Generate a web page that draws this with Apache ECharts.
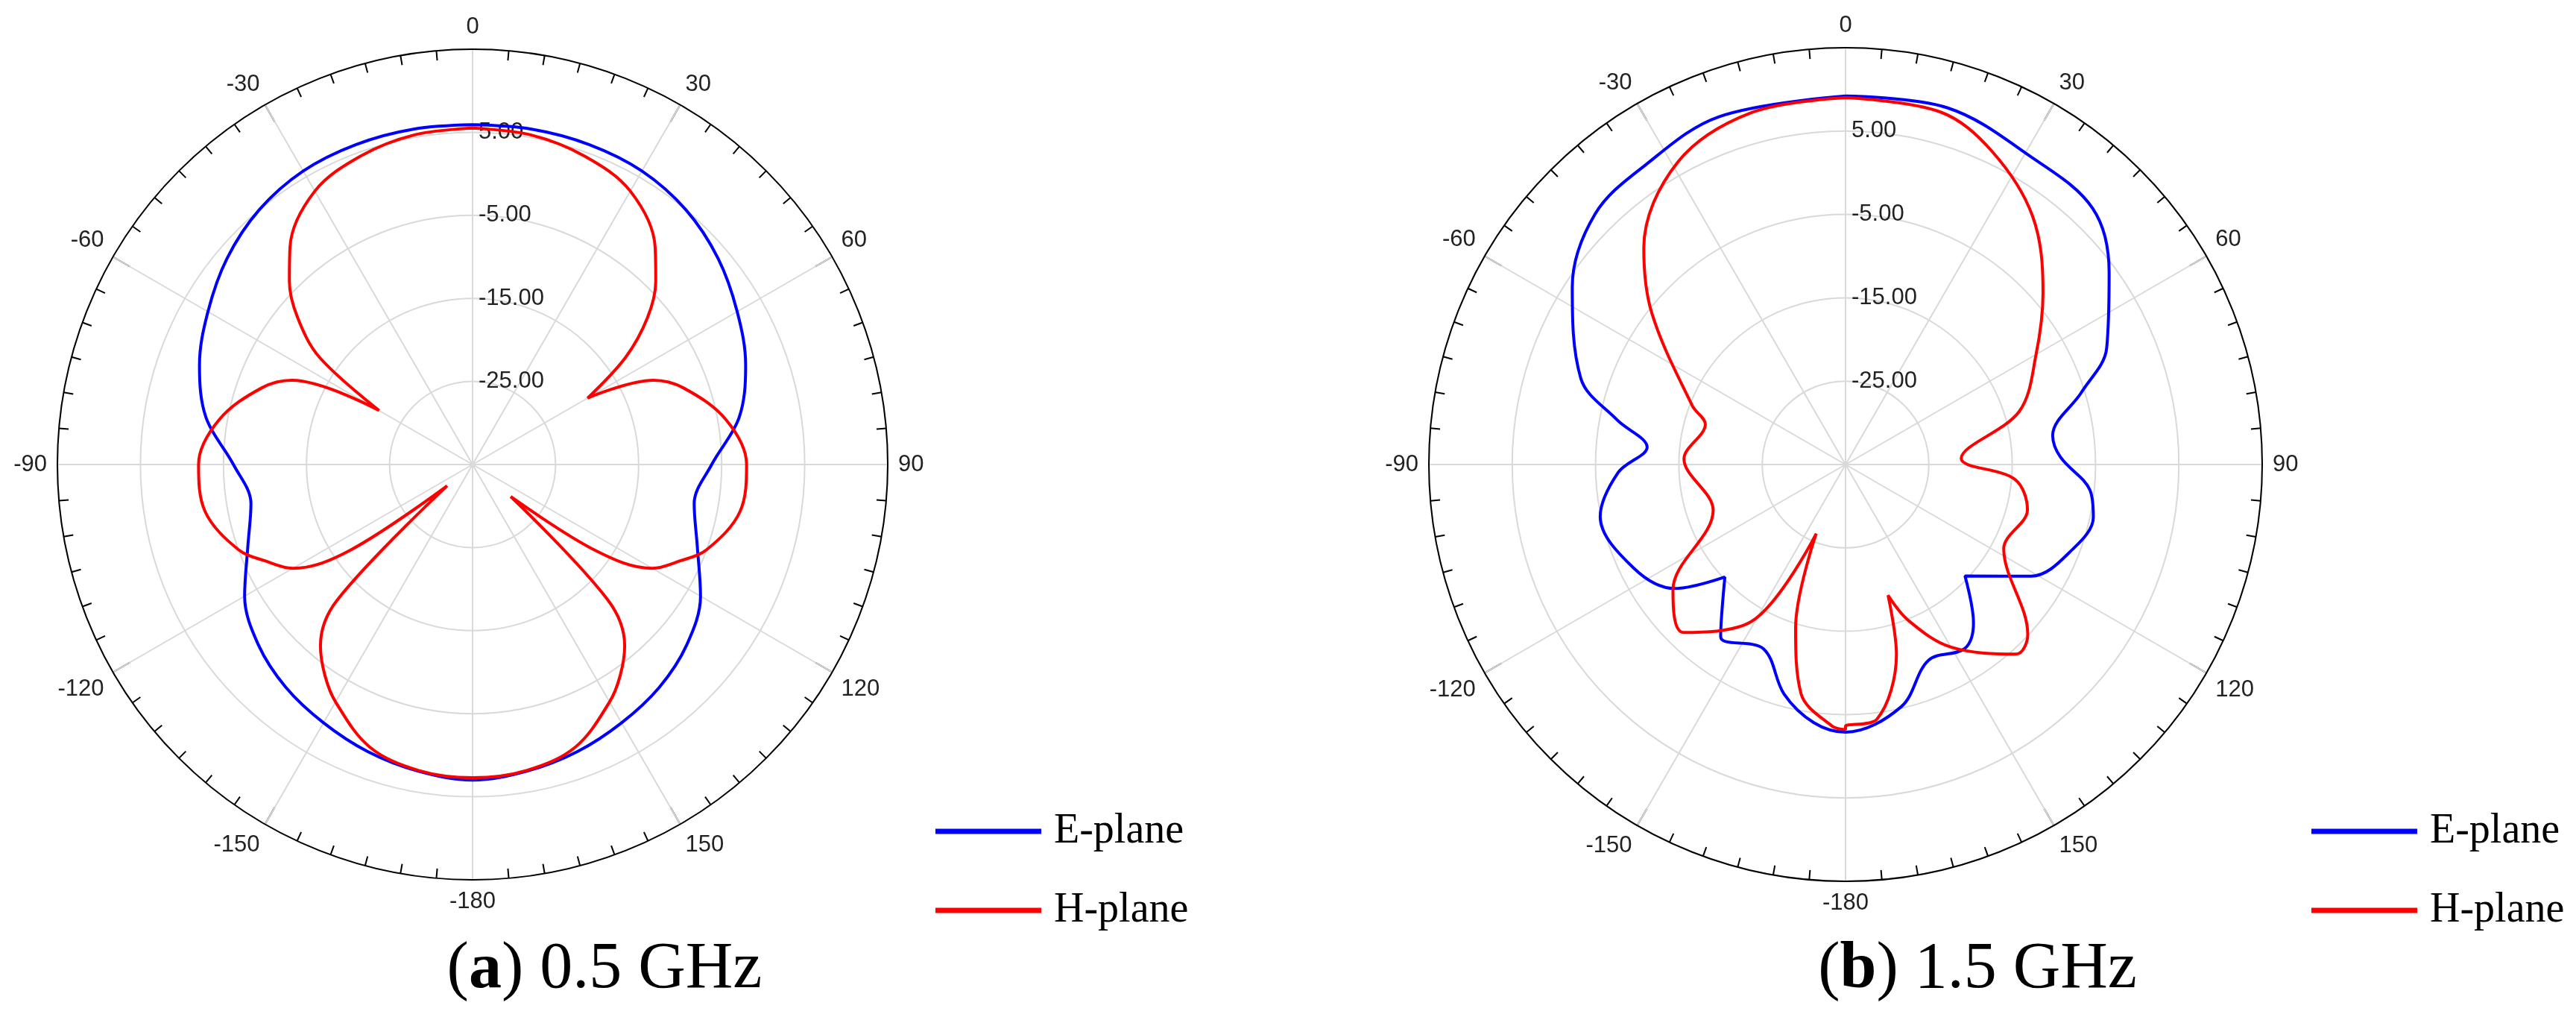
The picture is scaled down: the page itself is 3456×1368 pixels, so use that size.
<!DOCTYPE html>
<html>
<head>
<meta charset="utf-8">
<script src="https://cdn.jsdelivr.net/npm/echarts@6/dist/echarts.min.js"></script>
<style>html,body{margin:0;background:#fff}#main{width:3456px;height:1368px}</style>
</head>
<body>
<div id="main"></div>
<script>
// angle (deg, -180..180) and gain (dB)
var eA_ang = [-180,-170,-160,-150,-140,-130,-120,-110,-100,-90,-80,-70,-60,-50,-40,-30,-20,-10,0,10,20,30,40,50,60,70,80,90,100,110,120,130,140,150,160,170,180];
var eA_val = [3.0,2.5,1.8,0.9,0.0,-1.3,-3.3,-6.2,-7.9,-6.2,-2.4,0.0,1.8,3.6,5.0,5.8,6.0,6.0,5.9,6.0,6.0,5.8,5.0,3.6,1.8,0.0,-2.4,-6.2,-7.9,-6.2,-3.3,-1.3,0.0,0.9,1.8,2.5,3.0];

var hA_ang = [-180,-170,-160,-150,-145,-140,-135,-130,-125,-120,-115,-110,-100,-90,-80,-70,-65,-60,-55,-50,-45,-40,-30,-20,-10,0,10,20,30,40,45,50,55,60,65,70,80,90,100,110,115,120,125,130,135,140,145,150,160,170,180];
var hA_val = [2.7,2.4,1.2,-2.0,-4.0,-6.5,-12,-31,-17,-10,-7.5,-5,-2.3,-2,-4,-8,-11,-22,-12.5,-7.5,-3.8,-0.8,3.0,4.5,5.3,5.5,5.3,4.5,3.0,-0.8,-3.8,-7.5,-12.5,-19,-11,-8,-4,-2,-2.3,-5,-7.5,-10,-17,-29,-12,-6.5,-4.0,-2.0,1.2,2.4,2.7];

var eB_ang = [-180,-173,-165,-156,-144,-133,-126,-116,-102,-92,-85,-79,-72,-57,-45,-34,-20,0,16,31,44,54,66,73,82,88,96,102,110,121,133,141,147,157,167,180];
var eB_val = [-2.9,-3.8,-6.5,-10.8,-9.5,-15.2,-9.7,-6.7,-4.9,-7.7,-11.1,-7.1,-1.6,4.1,7.5,8.2,9.4,9.2,9.5,8.1,7.7,4.1,-0.7,-5.4,-9.9,-9.2,-5.5,-4.6,-5.8,-9.0,-15.4,-10.6,-8.7,-9.5,-5.2,-2.9];

var hB_ang = [-180,-177,-169,-163,-157,-149,-136,-126,-109,-88,-74,-69,-52,-43,-29,-15,0,15,25,37,49,60,73,87,95,104,118,133,138,150,158,162,165,173,180];
var hB_val = [-3.6,-3.6,-7,-14.5,-26,-13,-7,-9.4,-18.2,-15.6,-17.5,-15.3,-5.5,0.5,6.5,8.7,9.0,8.8,6.5,2.3,-3.6,-8.6,-13.2,-21.1,-14.6,-12.5,-13.5,-5.1,-4.4,-9.7,-14.8,-18.5,-11.4,-4.2,-3.2];

var angleTicks = [0,30,60,90,120,150,-180,-150,-120,-90,-60,-30];
var rTicks = [-25,-15,-5,5];
var titles = ['0.5 GHz','1.5 GHz'];
var letters = ['a','b'];

function toPolar(ang, val) {
    var pts = ang.map(function (a, i) { return [val[i], a < 0 ? a + 360 : a]; });
    pts.sort(function (p, q) { return p[1] - q[1]; });
    pts.push([pts[0][0], 360]);
    return pts;
}

var myChart = echarts.init(document.getElementById('main'));
var centers = [[634, 623], [2476, 623]];

function angleAxis(i) {
    return {
        polarIndex: i, type: 'value', min: 0, max: 360, interval: 30, startAngle: 90, clockwise: true,
        axisLine: {lineStyle: {color: '#000', width: 2}},
        axisTick: {show: true, inside: true, length: 26, lineStyle: {color: '#000', width: 2}},
        minorTick: {show: true, splitNumber: 6, length: 13, lineStyle: {color: '#000', width: 2}},
        splitLine: {lineStyle: {color: '#d9d9d9', width: 2}},
        axisLabel: {
            margin: 14, fontSize: 31, color: '#222', fontFamily: 'Liberation Sans',
            formatter: function (v) {
                if (v === 360) return '';
                var a = v > 180 ? v - 360 : v;
                if (v === 180) a = -180;
                return angleTicks.indexOf(a) >= 0 ? String(a) : '';
            }
        }
    };
}
function radiusAxis(i) {
    return {
        polarIndex: i, type: 'value', min: -35, max: 15, interval: 10,
        axisLine: {show: false}, axisTick: {show: false},
        splitLine: {lineStyle: {color: '#d9d9d9', width: 2}},
        axisLabel: {
            fontSize: 31, color: '#222', fontFamily: 'Liberation Sans', margin: -8, align: 'left',
            formatter: function (v) { return rTicks.indexOf(v) >= 0 ? v.toFixed(2) : ''; }
        }
    };
}

var options = {
    animation: false,
    polar: [
        {center: centers[0], radius: 557},
        {center: centers[1], radius: 559}
    ],
    angleAxis: [angleAxis(0), angleAxis(1)],
    radiusAxis: [radiusAxis(0), radiusAxis(1)],
    title: [0, 1].map(function (i) {
        return {
            text: '({b|' + letters[i] + '}) ' + titles[i],
            left: [806, 2648][i], top: 1252, textAlign: 'center',
            textStyle: {
                fontFamily: 'Liberation Serif', fontSize: 88, fontWeight: 'normal', color: '#000',
                rich: {b: {fontFamily: 'Liberation Serif', fontSize: 88, fontWeight: 'bold', color: '#000'}}
            }
        };
    }),
    legend: [0, 1].map(function (i) {
        return {
            data: ['E-plane', 'H-plane'], orient: 'vertical',
            left: [1250, 3096][i], top: 1082,
            icon: 'rect', itemWidth: 142, itemHeight: 7, itemGap: 50,
            textStyle: {fontFamily: 'Liberation Serif', fontSize: 56, color: '#000', padding: [0, 0, 0, 12]}
        };
    }),
    color: ['#0000ff', '#ff0000'],
    series: [
        {name: 'E-plane', data: toPolar(eA_ang, eA_val), polarIndex: 0},
        {name: 'H-plane', data: toPolar(hA_ang, hA_val), polarIndex: 0},
        {name: 'E-plane', data: toPolar(eB_ang, eB_val), polarIndex: 1},
        {name: 'H-plane', data: toPolar(hB_ang, hB_val), polarIndex: 1}
    ].map(function (s, k) {
        return {
            name: s.name, type: 'line', coordinateSystem: 'polar', polarIndex: s.polarIndex,
            data: s.data, smooth: 0.35, showSymbol: false, clip: false,
            lineStyle: {width: 4, color: k % 2 ? '#ff0000' : '#0000ff'},
            itemStyle: {color: k % 2 ? '#ff0000' : '#0000ff'}
        };
    })
};
myChart.setOption(options);
</script>
</body>
</html>
